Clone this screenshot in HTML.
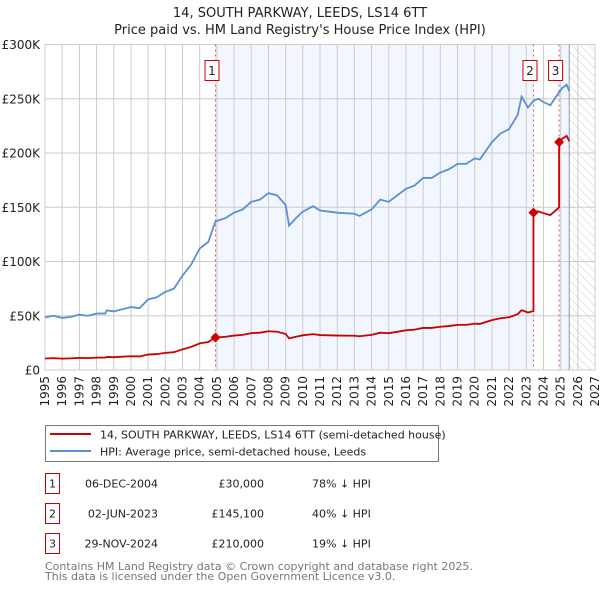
<!DOCTYPE html>
<html><head><meta charset="utf-8"><style>
body{margin:0;background:#fff;font-family:"DejaVu Sans","Liberation Sans",sans-serif;}
#wrap{position:relative;width:600px;height:590px;overflow:hidden;}
svg text{font-family:"DejaVu Sans","Liberation Sans",sans-serif;}
</style></head><body>
<div id="wrap">
<svg id="chart" width="600" height="590"></svg>
</div>
<script>
const hpiYears = [1995,1995.5,1996,1996.5,1997,1997.5,1998,1998.5,1998.6,1999,1999.5,2000,2000.5,2001,2001.5,2002,2002.5,2003,2003.5,2004,2004.5,2004.92,2005.5,2006,2006.5,2007,2007.5,2008,2008.5,2009,2009.2,2009.6,2010,2010.6,2011,2012,2013,2013.3,2014,2014.5,2015,2016,2016.5,2017,2017.5,2018,2018.5,2019,2019.5,2020,2020.3,2021,2021.5,2022,2022.5,2022.73,2023.1,2023.42,2023.7,2024,2024.4,2024.91,2025.1,2025.35,2025.5];
const hpiValues = [48.5,50,48,49,51,50,52,52,55,54,56,58,57,65,67,72,75,87,97,112,118,137,140,145,148,155,157,163,161,152,133,140,146,151,147,145,144,142,148,157,155,167,170,177,177,182,185,190,190,195,194,210,218,222,235,252,242,248,250,247,244,256,260,263,257];
const saleYears = [2004.92,2023.42,2024.91];
const salePrices = [30,145.1,210];
const saleLabels = ["1","2","3"];
const yTicks = [0,50,100,150,200,250,300];
const yTickLabels = ["£0","£50K","£100K","£150K","£200K","£250K","£300K"];
const xTickYears = [1995,1996,1997,1998,1999,2000,2001,2002,2003,2004,2005,2006,2007,2008,2009,2010,2011,2012,2013,2014,2015,2016,2017,2018,2019,2020,2021,2022,2023,2024,2025,2026,2027];
const tableDates = ["06-DEC-2004","02-JUN-2023","29-NOV-2024"];
const tablePrices = ["£30,000","£145,100","£210,000"];
const tableDiffs = ["78% ↓ HPI","40% ↓ HPI","19% ↓ HPI"];

const L=45,R=595,T=44.5,B=370,X0=1995,X1=2027,YMAX=300,dataEnd=2025.5;
const xs=y=>L+(y-X0)/(X1-X0)*(R-L);
const ys=v=>B-v/YMAX*(B-T);
const NS="http://www.w3.org/2000/svg";
const svg=document.getElementById('chart');
function mk(tag,attrs,parent){const e=document.createElementNS(NS,tag);for(const k in attrs)e.setAttribute(k,attrs[k]);(parent||svg).appendChild(e);return e;}

const defs=mk('defs',{});
const pat=mk('pattern',{id:'hatch',width:6,height:6,patternUnits:'userSpaceOnUse',patternTransform:'rotate(-45)'},defs);
mk('line',{x1:0,y1:0,x2:0,y2:6,stroke:'#ccc','stroke-width':1},pat);

let t=mk('text',{x:300,y:17,'text-anchor':'middle','font-size':13,fill:'#222'});t.textContent='14, SOUTH PARKWAY, LEEDS, LS14 6TT';


t=mk('text',{x:300,y:34,'text-anchor':'middle','font-size':13,fill:'#222'});t.textContent="Price paid vs. HM Land Registry's House Price Index (HPI)";



let r=mk('rect',{x:xs(saleYears[0]),y:T,width:xs(saleYears[1])-xs(saleYears[0]),height:B-T,fill:'#f2f6fe'});


r=mk('rect',{x:xs(saleYears[2]),y:T,width:xs(dataEnd)-xs(saleYears[2]),height:B-T,fill:'#f2f6fe'});


r=mk('rect',{x:xs(dataEnd),y:T,width:R-xs(dataEnd),height:B-T,fill:'url(#hatch)'});



xTickYears.forEach(y=>{mk('line',{x1:xs(y),x2:xs(y),y1:T,y2:B,stroke:'#ccc','stroke-width':1});
 const tx=mk('text',{x:0,y:0,'font-size':12,fill:'#222','text-anchor':'end',transform:`translate(${xs(y)+4},${B+6}) rotate(-90)`});tx.textContent=y;
 
 });
yTicks.forEach((v,i)=>{mk('line',{x1:L,x2:R,y1:ys(v),y2:ys(v),stroke:'#ccc','stroke-width':1});
 const tx=mk('text',{x:40,y:ys(v)+4.5,'font-size':12,fill:'#222','text-anchor':'end'});tx.textContent=yTickLabels[i];
 
 });
mk('rect',{x:L,y:T,width:R-L,height:B-T,fill:'none',stroke:'#ccc'});
mk('line',{x1:xs(dataEnd),x2:xs(dataEnd),y1:T,y2:B,stroke:'#8899aa','stroke-width':1});

saleYears.forEach((y,i)=>{
 const l=mk('line',{x1:xs(y),x2:xs(y),y1:T,y2:B,stroke:'#e55','stroke-width':1,'stroke-dasharray':'2,3'});
 
 
 const g=mk('g',{});
 
 
 mk('rect',{x:xs(y)-10.5,y:60.5,width:14,height:20,fill:'#fff',stroke:'#c00'},g);
 const tx=mk('text',{x:xs(y)-3.5,y:75,'font-size':12,'text-anchor':'middle',fill:'#222'},g);tx.textContent=saleLabels[i];
});

function hpiAt(y){for(let i=0;i<hpiYears.length-1;i++){if(y>=hpiYears[i]&&y<=hpiYears[i+1]){const f=(y-hpiYears[i])/(hpiYears[i+1]-hpiYears[i]);return hpiValues[i]+f*(hpiValues[i+1]-hpiValues[i]);}}return hpiValues[hpiValues.length-1];}
let p=mk('polyline',{points:hpiYears.map((y,i)=>xs(y)+','+ys(hpiValues[i])).join(' '),fill:'none',stroke:'#5b8fd4','stroke-width':1.8});



function scaleFor(y){let k=0;for(let i=0;i<saleYears.length;i++)if(y>=saleYears[i])k=i;return salePrices[k]/hpiAt(saleYears[k]);}
const pts=[];
hpiYears.forEach((y,i)=>{
 saleYears.forEach((s,j)=>{if(i>0&&s>hpiYears[i-1]&&s<=y){pts.push([s,hpiAt(s)*(j>0?salePrices[j-1]/hpiAt(saleYears[j-1]):salePrices[0]/hpiAt(saleYears[0]))]);pts.push([s,salePrices[j]]);}});
 pts.push([y,hpiValues[i]*scaleFor(y)]);
});
p=mk('polyline',{points:pts.map(q=>xs(q[0])+','+ys(q[1])).join(' '),fill:'none',stroke:'#cc0000','stroke-width':1.8});


saleYears.forEach((y,i)=>{
 const d=mk('path',{d:`M${xs(y)},${ys(salePrices[i])-5}l5,5l-5,5l-5,-5z`,fill:'#cc0000'});
 
 
});

const lg=mk('g',{});


mk('rect',{x:45.5,y:425.5,width:393,height:36,fill:'#fff',stroke:'#777'},lg);
mk('line',{x1:50,x2:91,y1:434,y2:434,stroke:'#cc0000','stroke-width':2},lg);
mk('line',{x1:50,x2:91,y1:451,y2:451,stroke:'#5b8fd4','stroke-width':2},lg);
let lt=mk('text',{x:100,y:438.5,'font-size':11,fill:'#222'},lg);lt.textContent='14, SOUTH PARKWAY, LEEDS, LS14 6TT (semi-detached house)';


lt=mk('text',{x:100,y:455.5,'font-size':11,fill:'#222'},lg);lt.textContent='HPI: Average price, semi-detached house, Leeds';



[0,1,2].forEach(i=>{
 const cy=483+i*30;
 const g=mk('g',{});
 
 
 mk('rect',{x:45.5,y:cy-9.5,width:14,height:20,fill:'#fff',stroke:'#c00'},g);
 let a=mk('text',{x:52.5,y:cy+4.5,'font-size':11,'text-anchor':'middle',fill:'#222'},g);a.textContent=saleLabels[i];
 a=mk('text',{x:158,y:cy+4.5,'font-size':11,'text-anchor':'end',fill:'#222'},g);a.textContent=tableDates[i];
 a=mk('text',{x:264,y:cy+4.5,'font-size':11,'text-anchor':'end',fill:'#222'},g);a.textContent=tablePrices[i];
 a=mk('text',{x:312,y:cy+4.5,'font-size':11,fill:'#222'},g);a.textContent=tableDiffs[i];
});
let f=mk('text',{x:45,y:570,'font-size':11,fill:'#777'});f.textContent='Contains HM Land Registry data © Crown copyright and database right 2025.';


f=mk('text',{x:45,y:580,'font-size':11,fill:'#777'});f.textContent='This data is licensed under the Open Government Licence v3.0.';


</script>
</body></html>
